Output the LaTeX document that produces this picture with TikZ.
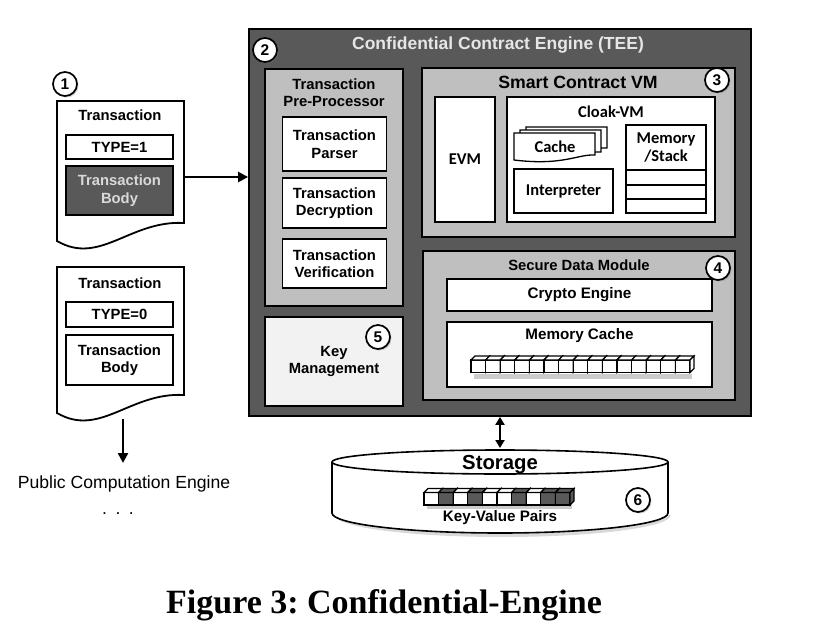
\documentclass[tikz,border=0pt]{standalone}
\usepackage{fontspec}
\setmainfont{Liberation Sans}
\newfontfamily\calfont{Carlito}
\newfontfamily\capfont{Liberation Serif}
\usetikzlibrary{arrows.meta,shadows}
\frenchspacing
\definecolor{teegray}{HTML}{595959}
\definecolor{midgray}{HTML}{BFBFBF}
\definecolor{paleg}{HTML}{F2F2F2}
\definecolor{titleg}{HTML}{E6E6E6}
\definecolor{bodytxt}{HTML}{D9D9D9}
\newcommand\lbl{\bfseries\fontsize{14.8}{17.5}\selectfont}
\newcommand\clb{\calfont\bfseries\fontsize{16.5}{18}\selectfont}
\newcommand\cubeat[3]{%
  \filldraw[fill=#3,line width=1.2pt] (#1,#2) rectangle ++(14.6,12.5);
  \filldraw[fill=#3,line width=1.2pt] (#1,#2) -- ++(4,-4) -- ++(14.6,0) -- ++(-4,4) -- cycle;
  \filldraw[fill=#3,line width=1.2pt] (#1+14.6,#2) -- ++(4,-4) -- ++(0,12.5) -- ++(-4,4) -- cycle;}
\begin{document}
\begin{tikzpicture}[x=1pt,y=-1pt,
  box/.style={draw=black,line width=1.8pt,inner sep=0pt,align=center,font=\lbl},
  lab/.style={inner sep=0pt,align=center,font=\lbl},
  num/.style={circle,draw=black,fill=white,line width=1.7pt,minimum size=24pt,inner sep=0pt,
    font=\bfseries\fontsize{15.5}{15.5}\selectfont,
    drop shadow={shadow xshift=1.5pt,shadow yshift=-1.5pt,opacity=.35}},
  arrow/.style={line width=2.4pt,-{Triangle[length=10pt,width=10pt]}},
  dblarrow/.style={line width=2.4pt,{Triangle[length=8pt,width=9pt]}-{Triangle[length=8pt,width=9pt]}},
  docpath/.style={draw=black,fill=white,line width=1.8pt}]
\useasboundingbox[fill=white] (0,0) rectangle (815,640);

% ---------- transaction documents ----------
\draw[docpath] (57,101) -- (184,101) -- (184,223) .. controls (130,220) and (100,266) .. (57,241) -- cycle;
\node[num] (n1) at (65,84) {1};
\node[lab] (t1) at (120,115) {Transaction};
\node[box,fill=white,minimum width=107pt,minimum height=24pt] (type1) at (119.5,147) {TYPE=1};
\node[box,fill=teegray,text=bodytxt,minimum width=107pt,minimum height=49pt] (body1) at (119.5,190.5) {Transaction\\Body};
\coordinate (d1out) at (184,177);

\draw[docpath] (57,267) -- (184,267) -- (184,395) .. controls (130,392) and (100,438) .. (57,413) -- cycle;
\node[lab] (t2) at (120,283) {Transaction};
\node[box,fill=white,minimum width=107pt,minimum height=25pt] (type0) at (119.5,314.5) {TYPE=0};
\node[box,fill=white,minimum width=107pt,minimum height=50pt] (body0) at (119.5,360) {Transaction\\Body};
\coordinate (d2out) at (123,419);
\coordinate (d2tip) at (123,463);
\node[inner sep=0pt,font=\fontsize{17.6}{20}\selectfont] (pce) at (124,484) {Public Computation Engine};
\node[inner sep=0pt,font=\fontsize{17.6}{20}\selectfont] (dots) at (118,514) {.\hspace{8.5pt}.\hspace{8.5pt}.};

% ---------- TEE ----------
\node[box,fill=teegray,minimum width=502pt,minimum height=387pt] (tee) at (500,222.5) {};
\node[inner sep=0pt,text=titleg,font=\bfseries\fontsize{17.5}{20}\selectfont] (teetitle) at (498,45) {Confidential Contract Engine (TEE)};
\node[num] (n2) at (265,50) {2};

% pre-processor
\node[box,fill=midgray,minimum width=138pt,minimum height=237pt] (pre) at (334,187.5) {};
\node[lab] (pretitle) at (334,92.5) {Transaction\\Pre-Processor};
\node[box,fill=white,minimum width=104pt,minimum height=54pt] (parser) at (334.5,144) {Transaction\\Parser};
\node[box,fill=white,minimum width=104pt,minimum height=50pt] (decr) at (334.5,203) {Transaction\\Decryption};
\node[box,fill=white,minimum width=104pt,minimum height=49pt] (verif) at (334.5,263.5) {Transaction\\Verification};

% key management
\node[box,fill=paleg,minimum width=138pt,minimum height=89pt] (key) at (334,361.5) {};
\node[lab] (keytxt) at (334,361.5) {Key\\Management};
\node[num] (n5) at (378,337) {5};

% smart contract VM
\node[box,fill=midgray,minimum width=313pt,minimum height=169pt] (vm) at (578.5,152.5) {};
\node[inner sep=0pt,font=\bfseries\fontsize{17.7}{20}\selectfont] (vmtitle) at (578,82) {Smart Contract VM};
\node[num] (n3) at (717,80) {3};
\node[box,fill=white,minimum width=60pt,minimum height=125pt,font=\clb] (evm) at (465,159.5) {EVM};
\node[box,fill=white,minimum width=208pt,minimum height=125pt] (cloak) at (611,159.5) {};
\node[inner sep=0pt,font=\clb] (cloaktitle) at (611,112) {Cloak-VM};
% cache stack
\draw[docpath,line width=1.3pt] (526,127) -- (607,127) -- (607,148) .. controls (590,147) and (575,158) .. (526,154) -- cycle;
\draw[docpath,line width=1.3pt] (520,130) -- (601,130) -- (601,152) .. controls (584,151) and (569,162) .. (520,157) -- cycle;
\draw[docpath,line width=1.3pt] (514,133) -- (595,133) -- (595,155) .. controls (578,154) and (563,166) .. (514,160) -- cycle;
\node[inner sep=0pt,font=\clb] (cache) at (555,147) {Cache};
\node[box,fill=white,minimum width=99pt,minimum height=44pt,font=\clb] (interp) at (563.5,191) {Interpreter};
\node[box,fill=white,minimum width=80pt,minimum height=45pt,font=\clb] (memtop) at (666,147.5) {Memory\\/Stack};
\node[box,fill=white,minimum width=80pt,minimum height=15pt] (row1) at (666,177.5) {};
\node[box,fill=white,minimum width=80pt,minimum height=14pt] (row2) at (666,192) {};
\node[box,fill=white,minimum width=80pt,minimum height=14pt] (row3) at (666,206) {};

% secure data module
\node[box,fill=midgray,minimum width=312pt,minimum height=149pt] (sdm) at (579,325.5) {};
\node[lab] (sdmtitle) at (579,265) {Secure Data Module};
\node[num] (n4) at (718,268) {4};
\node[box,fill=white,minimum width=265pt,minimum height=32pt,font=\bfseries\fontsize{15.2}{18}\selectfont] (crypto) at (579.5,295) {Crypto Engine};
\node[box,fill=white,minimum width=265pt,minimum height=65pt] (memc) at (579.5,354.5) {};
\node[inner sep=0pt,font=\bfseries\fontsize{15.2}{18}\selectfont] (memctitle) at (579.5,336) {Memory Cache};
\fill[black,opacity=.2] (474,374) rectangle (692,379);
\foreach \i in {0,...,14}{
  \pgfmathsetmacro\cx{471+14.6*\i}
  \cubeat{\cx}{360}{white}
}

% ---------- storage ----------
\fill[black,opacity=.15] (335,515) .. controls (335,527) and (407,537) .. (502,537) .. controls (597,537) and (671,527) .. (671,515) -- cycle;
\fill[white] (332,462) -- (332,513) .. controls (332,524) and (407,533) .. (500,533) .. controls (593,533) and (668,524) .. (668,513) -- (668,462) -- cycle;
\draw[line width=1.6pt] (332,462) -- (332,513) .. controls (332,524) and (407,533) .. (500,533) .. controls (593,533) and (668,524) .. (668,513) -- (668,462);
\draw[line width=1.6pt,fill=white] (500,462) ellipse [x radius=168pt,y radius=12pt];
\node[inner sep=0pt,font=\bfseries\fontsize{20.3}{22}\selectfont] (stor) at (500,465) {Storage};
\coordinate (stortop) at (500,448);
\fill[black,opacity=.2] (427,504) rectangle (572,509);
\foreach \c [count=\i from 0] in {white,teegray,white,teegray,white,white,teegray,white,teegray,teegray}{
  \pgfmathsetmacro\cx{424+14.6*\i}
  \cubeat{\cx}{492.5}{\c}
}
\node[inner sep=0pt,font=\bfseries\fontsize{15.2}{18}\selectfont] (kv) at (500,518) {Key-Value Pairs};
\node[num] (n6) at (638,500) {6};

% ---------- connectors ----------
\draw[arrow] (d1out) -- (tee.west |- d1out);
\draw[arrow] (d2out) -- (d2tip);
\draw[dblarrow] (tee.south) -- (stortop);

% ---------- caption ----------
\node[anchor=base,inner sep=0pt,font=\capfont\bfseries\fontsize{34}{38}\selectfont] (cap) at (384,613) {Figure 3: Confidential-Engine};
\end{tikzpicture}
\end{document}
